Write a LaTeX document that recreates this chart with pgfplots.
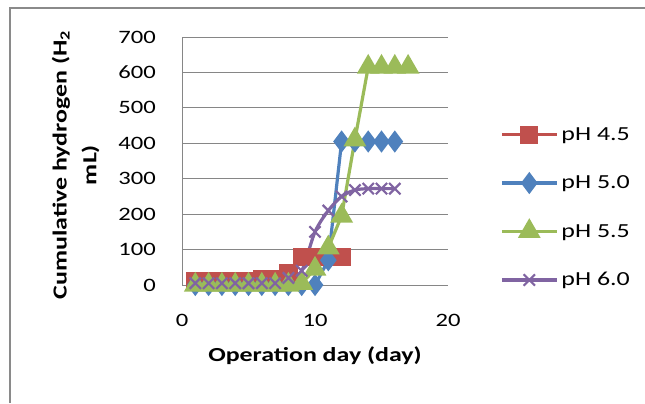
\documentclass[border=0pt]{standalone}
\usepackage{pgfplots}
\pgfplotsset{compat=1.18}
\usepackage{fontspec}
\setmainfont{Carlito}[FakeStretch=1.3]
\definecolor{exred}{HTML}{C0504D}
\definecolor{exblue}{HTML}{4F81BD}
\definecolor{exgreen}{HTML}{9BBB59}
\definecolor{expurple}{HTML}{8064A2}
\definecolor{gridgray}{HTML}{868686}
\definecolor{framegray}{HTML}{8A8A8A}
\begin{document}
\begin{tikzpicture}[x=1bp,y=1bp]
\path[use as bounding box] (0,0) rectangle (645,403);
\draw[color=framegray, line width=2.5bp] (10,0) -- (10,395) -- (645,395);
\begin{axis}[
  at={(182bp,118bp)}, anchor=south west,
  width=266bp, height=248bp, scale only axis,
  xmin=0, xmax=20, ymin=0, ymax=700,
  xtick={0,10,20}, ytick={0,100,...,700},
  axis x line*=bottom,
  x axis line style={draw=none},
  axis y line*=left,
  y axis line style={draw=gridgray, line width=1bp, -},
  major tick length=0pt,
  ymajorgrids, grid style={draw=gridgray, line width=1bp},
  clip=false,
  /pgf/number format/assume math mode=true,
  tick label style={font=\fontsize{19}{22}\selectfont, text=black},
  xticklabel style={anchor=base, yshift=-41bp},
  yticklabel style={anchor=east, xshift=-26bp, inner sep=0pt},
  xlabel={\textbf{Operation day (day)}},
  xlabel style={font=\fontsize{20}{24}\selectfont, at={(axis description cs:0.5,0)}, anchor=base, yshift=-76bp},
  ylabel={\textbf{Cumulative hydrogen (H\textsubscript{2}}\\\textbf{mL)}},
  ylabel style={font=\fontsize{20}{30}\selectfont, align=center, at={(axis description cs:-0.40,0.484)}, anchor=center, rotate=0},
  legend style={draw=none, fill=none, at={(axis description cs:1,0.3125)}, anchor=west, xshift=52bp,
    font=\fontsize{20}{24}\selectfont, row sep=28bp, inner sep=0pt,
    nodes={inner sep=3bp}},
  legend cell align=left,
  legend image code/.code={\draw[mark repeat=2,mark phase=2,#1] plot coordinates {(0bp,0bp) (27.5bp,0bp) (55bp,0bp)};},
]
\addplot[color=exred, line width=3.2bp, mark=square*, mark size=7.5bp, mark options={solid, draw=none, fill=exred}]
  coordinates {(1,12)(2,12)(3,12)(4,12)(5,12)(6,18)(7,18)(8,35)(9,80)(10,80)(11,80)(12,80)};
\addlegendentry{pH 4.5}
\addplot[color=exblue, line width=3.2bp, mark=diamond*, mark size=8.5bp, mark options={solid, draw=none, fill=exblue}]
  coordinates {(1,0)(2,0)(3,0)(4,0)(5,0)(6,0)(7,0)(8,0)(9,0)(10,0)(11,70)(12,405)(13,405)(14,405)(15,405)(16,405)};
\addlegendentry{pH 5.0}
\addplot[color=exgreen, line width=3.2bp, mark=triangle*, mark size=10bp, mark options={solid, draw=none, fill=exgreen}]
  coordinates {(1,0)(2,0)(3,0)(4,0)(5,0)(6,0)(7,0)(8,0)(9,5)(10,45)(11,105)(12,195)(13,410)(14,615)(15,615)(16,615)(17,615)};
\addlegendentry{pH 5.5}
\addplot[color=expurple, line width=3.2bp, smooth, mark=x, mark size=8bp, mark options={solid, line width=2.2bp}]
  coordinates {(1,5)(2,5)(3,5)(4,5)(5,5)(6,5)(7,5)(8,20)(9,40)(10,150)(11,210)(12,250)(13,268)(14,272)(15,272)(16,272)};
\addlegendentry{pH 6.0}
\end{axis}
\end{tikzpicture}
\end{document}
